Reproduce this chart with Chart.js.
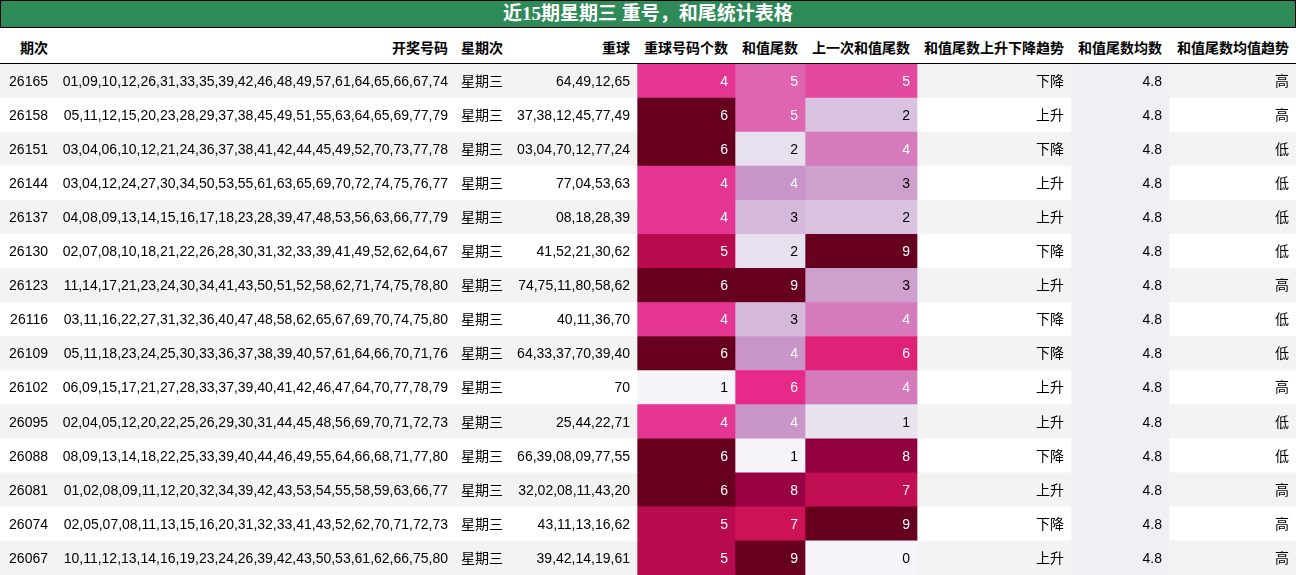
<!DOCTYPE html>
<html>
<head>
<meta charset="utf-8">
<script src="https://cdn.jsdelivr.net/npm/chart.js@4"></script>
<style>
  body { margin: 0; width: 1296px; height: 575px; overflow: hidden; background: #fff;
         font-family: "Liberation Sans Narrow", "Liberation Sans", "Noto Sans CJK SC", sans-serif; }
  #title { position: absolute; left: 0; top: 0; width: 1294px; height: 26px; background: #2e8b57;
           border: 1px solid #000; color: #fff; font: bold 19px "Liberation Serif", "Noto Sans CJK SC", serif;
           text-align: center; line-height: 26px; }
  #head { position: absolute; left: 0; top: 28px; width: 1296px; height: 35px; border-bottom: 1px solid #000; }
  #head span { position: absolute; top: 9px; font-weight: bold; font-size: 14px; color: #000; white-space: nowrap; }
  #wrap { position: absolute; left: 0; top: 64px; width: 1296px; height: 511px; }
</style>
</head>
<body>
<div id="title">近15期星期三 重号，和尾统计表格</div>
<div id="head"></div>
<div id="wrap"><canvas id="myChart"></canvas></div>
<script>
// Daten der Tabelle
const headers = ["期次", "开奖号码", "星期次", "重球", "重球号码个数", "和值尾数", "上一次和值尾数", "和值尾数上升下降趋势", "和值尾数均数", "和值尾数均值趋势"];
const issues = ["26165", "26158", "26151", "26144", "26137", "26130", "26123", "26116", "26109", "26102", "26095", "26088", "26081", "26074", "26067"];
const numbers = [
  "01,09,10,12,26,31,33,35,39,42,46,48,49,57,61,64,65,66,67,74",
  "05,11,12,15,20,23,28,29,37,38,45,49,51,55,63,64,65,69,77,79",
  "03,04,06,10,12,21,24,36,37,38,41,42,44,45,49,52,70,73,77,78",
  "03,04,12,24,27,30,34,50,53,55,61,63,65,69,70,72,74,75,76,77",
  "04,08,09,13,14,15,16,17,18,23,28,39,47,48,53,56,63,66,77,79",
  "02,07,08,10,18,21,22,26,28,30,31,32,33,39,41,49,52,62,64,67",
  "11,14,17,21,23,24,30,34,41,43,50,51,52,58,62,71,74,75,78,80",
  "03,11,16,22,27,31,32,36,40,47,48,58,62,65,67,69,70,74,75,80",
  "05,11,18,23,24,25,30,33,36,37,38,39,40,57,61,64,66,70,71,76",
  "06,09,15,17,21,27,28,33,37,39,40,41,42,46,47,64,70,77,78,79",
  "02,04,05,12,20,22,25,26,29,30,31,44,45,48,56,69,70,71,72,73",
  "08,09,13,14,18,22,25,33,39,40,44,46,49,55,64,66,68,71,77,80",
  "01,02,08,09,11,12,20,32,34,39,42,43,53,54,55,58,59,63,66,77",
  "02,05,07,08,11,13,15,16,20,31,32,33,41,43,52,62,70,71,72,73",
  "10,11,12,13,14,16,19,23,24,26,39,42,43,50,53,61,62,66,75,80"
];
const weekdays = Array(15).fill("星期三");
const repeats = ["64,49,12,65", "37,38,12,45,77,49", "03,04,70,12,77,24", "77,04,53,63", "08,18,28,39", "41,52,21,30,62",
  "74,75,11,80,58,62", "40,11,36,70", "64,33,37,70,39,40", "70", "25,44,22,71", "66,39,08,09,77,55", "32,02,08,11,43,20",
  "43,11,13,16,62", "39,42,14,19,61"];
const repeatCounts = [4, 6, 6, 4, 4, 5, 6, 4, 6, 1, 4, 6, 6, 5, 5];
const sumTails = [5, 5, 2, 4, 3, 2, 9, 3, 4, 6, 4, 1, 8, 7, 9];
const prevTails = [5, 2, 4, 3, 2, 9, 3, 4, 6, 4, 1, 8, 7, 9, 0];
const trends = ["下降", "上升", "下降", "上升", "上升", "下降", "上升", "下降", "下降", "上升", "上升", "下降", "上升", "下降", "上升"];
const avgs = Array(15).fill(4.8);
const avgTrends = ["高", "高", "低", "低", "低", "低", "高", "低", "低", "高", "低", "低", "高", "高", "高"];

// Spaltengrenzen und Ausrichtung
const cols = [
  { x: [0, 55], align: "right", values: issues },
  { x: [55, 455], align: "right", values: numbers },
  { x: [455, 510], align: "left", values: weekdays },
  { x: [510, 637], align: "right", values: repeats },
  { x: [637, 735], align: "right", values: repeatCounts, heat: true },
  { x: [735, 805], align: "right", values: sumTails, heat: true },
  { x: [805, 917], align: "right", values: prevTails, heat: true },
  { x: [917, 1071], align: "right", values: trends },
  { x: [1071, 1169], align: "right", values: avgs, fixed: "#f1eff6" },
  { x: [1169, 1296], align: "right", values: avgTrends }
];

const purd = ["#f7f4f9", "#e7e1ef", "#d4b9da", "#c994c7", "#df65b0", "#e7298a", "#ce1256", "#980043", "#67001f"];
function hex(c) { return [1, 3, 5].map(i => parseInt(c.substr(i, 2), 16)); }
function heatColor(t) {
  const p = t * (purd.length - 1);
  const i = Math.min(Math.floor(p), purd.length - 2);
  const f = p - i;
  const a = hex(purd[i]), b = hex(purd[i + 1]);
  return "rgb(" + a.map((v, k) => Math.round(v + (b[k] - v) * f)).join(",") + ")";
}
function norm(col, v) {
  const mn = Math.min(...col.values), mx = Math.max(...col.values);
  return (v - mn) / (mx - mn);
}

// Kopfzeile
const head = document.getElementById("head");
headers.forEach((h, i) => {
  const s = document.createElement("span");
  s.textContent = h;
  if (cols[i].align === "left") s.style.left = (cols[i].x[0] + 6) + "px";
  else s.style.right = (1296 - cols[i].x[1] + 7) + "px";
  head.appendChild(s);
});

const rowBg = issues.map((_, i) => (i % 2 === 0 ? "#f3f3f3" : "#ffffff"));

const datasets = cols.map((col) => ({
  data: issues.map(() => col.x),
  backgroundColor: col.values.map((v, r) =>
    col.heat ? heatColor(norm(col, v)) : col.fixed ? col.fixed : rowBg[r]),
  borderWidth: 0,
  grouped: false,
  barPercentage: 1,
  categoryPercentage: 1
}));

const cellText = {
  id: "cellText",
  afterDatasetsDraw(chart) {
    const ctx = chart.ctx;
    ctx.save();
    ctx.font = '14px "Liberation Sans Narrow", "Liberation Sans", "Noto Sans CJK SC", sans-serif';
    ctx.textBaseline = "middle";
    chart.data.datasets.forEach((ds, c) => {
      const col = cols[c];
      chart.getDatasetMeta(c).data.forEach((bar, r) => {
        const v = col.values[r];
        let color = "#000";
        if (col.heat && norm(col, v) > 0.35) color = "#fff";
        ctx.fillStyle = color;
        const left = Math.min(bar.x, bar.base), right = Math.max(bar.x, bar.base);
        ctx.textAlign = col.align;
        const tx = col.align === "left" ? left + 6 : right - 7;
        ctx.fillText(typeof v === "number" && !col.heat ? v.toFixed(1) : String(v), tx, bar.y + 1);
      });
    });
    ctx.restore();
  }
};

new Chart(document.getElementById("myChart"), {
  type: "bar",
  data: { labels: issues, datasets: datasets },
  options: {
    indexAxis: "y",
    responsive: true,
    maintainAspectRatio: false,
    animation: false,
    layout: { padding: 0 },
    plugins: { legend: { display: false }, tooltip: { enabled: false } },
    scales: {
      x: { type: "linear", min: 0, max: 1296, display: false },
      y: { display: false, grid: { display: false } }
    }
  },
  plugins: [cellText]
});
</script>
</body>
</html>
